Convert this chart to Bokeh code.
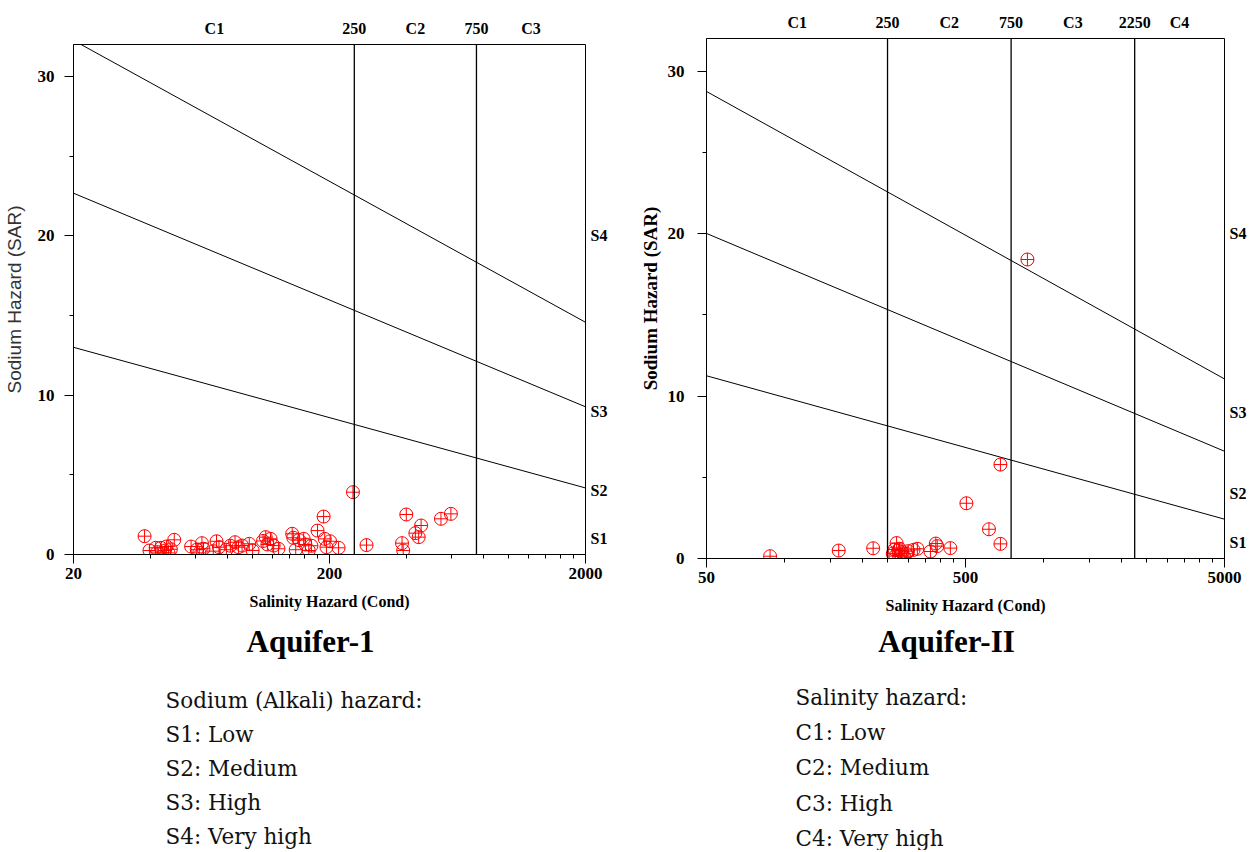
from bokeh.plotting import figure
from bokeh.models import FixedTicker, LinearAxis, LogAxis, NumeralTickFormatter, Range1d, Span
from bokeh.core.properties import value
from bokeh.layouts import row, column
from bokeh.embed import file_html
from bokeh.resources import INLINE

# ---------------- data ----------------
ec_aq1 = [37.9, 39.6, 41.9, 43.9, 45.5, 46.2, 48.0, 49.5, 42.5, 47.0,
          57.6, 60.6, 63.5, 64.4, 62.0, 70.3, 72.4, 74.0, 79.1, 85.5,
          88.2, 91.1, 97.2, 100.2, 82.0, 112.7, 114.4, 117.7, 121.0, 126.4,
          110.0, 143.0, 144.4, 147.6, 152.0, 158.5, 161.0, 166.0, 170.0, 179.6,
          189.7, 191.6, 194.6, 201.0, 217.0, 247.0, 279.0, 384.0, 388.0, 399.0,
          433.0, 446.0, 456.0, 545.0, 596.0]
sar_aq1 = [1.15, 0.25, 0.42, 0.42, 0.25, 0.50, 0.33, 0.92, 0.15, 0.10,
           0.50, 0.30, 0.71, 0.36, 0.10, 0.21, 0.83, 0.46, 0.30, 0.77,
           0.46, 0.56, 0.67, 0.25, 0.55, 1.09, 0.63, 0.98, 0.56, 0.36,
           0.85, 1.30, 1.05, 0.30, 0.90, 0.98, 0.63, 0.25, 0.55, 1.50,
           2.38, 0.98, 0.46, 0.83, 0.42, 3.91, 0.59, 0.71, 0.25, 2.51,
           1.34, 1.09, 1.82, 2.24, 2.55]

ec_aq2 = [88, 162, 220, 271, 262, 268, 275, 280, 285, 290, 295, 300, 278, 266,
          315, 326, 366, 384, 389, 437, 504, 616, 682, 682, 867]
sar_aq2 = [0.14, 0.49, 0.63, 0.95, 0.30, 0.15, 0.50, 0.20, 0.40, 0.10, 0.30, 0.45, 0.60, 0.55,
           0.53, 0.60, 0.43, 0.92, 0.76, 0.64, 3.40, 1.80, 0.90, 5.78, 18.4]

# Sodium-hazard boundary lines: SAR at EC = 20 and EC = 5000
boundary_ec = [20, 5000]
s2_boundary = [13.0, 2.42]
s3_boundary = [22.67, 6.6]
s4_boundary = [32.26, 11.05]

salinity_breaks_1 = [250, 750]
salinity_breaks_2 = [250, 750, 2250]
salinity_classes_1 = ["C1", "C2", "C3"]
salinity_classes_2 = ["C1", "C2", "C3", "C4"]
sodium_classes = ["S1", "S2", "S3", "S4"]
sodium_label_sar = [1, 4, 9, 20]
sar_ticks = [0, 10, 20, 30]
sar_minor = [5, 15, 25]
x_ticks_1 = [20, 200, 2000]
x_ticks_2 = [50, 500, 5000]

titles = ["Aquifer-1", "Aquifer-II"]
legend_1 = ["Sodium (Alkali) hazard:", "S1: Low", "S2: Medium", "S3: High", "S4: Very high"]
legend_2 = ["Salinity hazard:", "C1: Low", "C2: Medium", "C3: High", "C4: Very high"]

SERIF = "Liberation Serif"


def style_labels(ax, size="17px"):
    ax.major_label_text_font = SERIF
    ax.major_label_text_font_style = "bold"
    ax.major_label_text_font_size = size
    ax.major_label_text_color = "black"


def make_plot(ec, sar, x0, x1, x_ticks, minor_step, breaks, classes, fw, fh, bl, bt, br, bb,
              ytitle_font, ytitle_style, ytitle_color, ytitle_size, lab_std, ax_lab_std):
    p = figure(x_axis_type="log", x_range=Range1d(x0, x1), y_range=Range1d(0, 32),
               frame_width=fw, frame_height=fh, min_border_left=bl, min_border_top=bt,
               min_border_right=br, min_border_bottom=bb,
               output_backend="svg", toolbar_location=None)
    p.frame_align = False
    p.grid.visible = False
    p.outline_line_color = "black"
    p.outline_line_width = 1
    p.background_fill_color = "white"
    p.border_fill_color = "white"

    # x axis
    minors = [minor_step * k * 10 ** e for e in (1, 2) for k in range(2, 10)]
    p.xaxis.ticker = FixedTicker(ticks=x_ticks, minor_ticks=minors)
    p.xaxis.formatter = NumeralTickFormatter(format="0")
    p.xaxis.axis_label = "Salinity Hazard (Cond)"
    p.xaxis.axis_label_text_font = SERIF
    p.xaxis.axis_label_text_font_style = "bold"
    p.xaxis.axis_label_text_font_size = "16px"
    p.xaxis.axis_label_text_color = "black"
    p.xaxis.axis_label_standoff = 11
    p.xaxis.major_label_standoff = 4

    # y axis
    p.yaxis.ticker = FixedTicker(ticks=sar_ticks, minor_ticks=sar_minor)
    p.yaxis.axis_label = "Sodium Hazard (SAR)"
    p.yaxis.axis_label_text_font = ytitle_font
    p.yaxis.axis_label_text_font_style = ytitle_style
    p.yaxis.axis_label_text_color = ytitle_color
    p.yaxis.axis_label_text_font_size = ytitle_size
    p.yaxis.axis_label_standoff = ax_lab_std
    p.yaxis.major_label_standoff = lab_std

    for ax in (p.xaxis, p.yaxis):
        style_labels(ax)
        ax.axis_line_color = "black"
        ax.major_tick_line_color = "black"
        ax.minor_tick_line_color = "black"
        ax.major_tick_in = 0
        ax.major_tick_out = 9
        ax.minor_tick_in = 0
        ax.minor_tick_out = 4

    # S class labels on the right
    sax = LinearAxis(ticker=FixedTicker(ticks=sodium_label_sar),
                     major_label_overrides={float(v): s for v, s in zip(sodium_label_sar, sodium_classes)})
    sax.axis_line_color = None
    sax.major_tick_line_color = None
    sax.minor_tick_line_color = None
    sax.major_tick_out = 0
    sax.minor_tick_out = 0
    sax.major_label_standoff = 5
    style_labels(sax, "16px")
    p.add_layout(sax, "right")

    # salinity class labels and class limits on top
    edges = [x0] + breaks + [x1]
    centers = [round((edges[i] * edges[i + 1]) ** 0.5) for i in range(len(classes))]
    overrides = {float(b): str(b) for b in breaks}
    overrides.update({float(c): t for c, t in zip(centers, classes)})
    tax = LogAxis(ticker=FixedTicker(ticks=sorted(breaks + centers)),
                  major_label_overrides=overrides)
    tax.axis_line_color = None
    tax.major_tick_line_color = None
    tax.minor_tick_line_color = None
    tax.major_tick_out = 0
    tax.minor_tick_out = 0
    tax.major_label_standoff = 8
    style_labels(tax, "16px")
    p.add_layout(tax, "above")

    # boundary lines
    for b in (s2_boundary, s3_boundary, s4_boundary):
        p.line(boundary_ec, b, line_color="black", line_width=1)
    for b in breaks:
        p.add_layout(Span(location=b, dimension="height", line_color="black", line_width=1.3))

    # samples
    p.scatter(ec, sar, marker="circle_cross", size=13, fill_color=None,
              line_color="#ff0000", line_width=1)
    return p


p1 = make_plot(ec_aq1, sar_aq1, 20, 2000, x_ticks_1, 2, salinity_breaks_1, salinity_classes_1,
               512, 510, 73, 44, 51, 68, "Liberation Sans", "normal", "#333333", "19px", 10, 10)
p2 = make_plot(ec_aq2, sar_aq2, 50, 5000, x_ticks_2, 5, salinity_breaks_2, salinity_classes_2,
               518, 520, 70, 38, 24, 64, SERIF, "bold", "black", "19px", 13, 4)

# ---------------- captions and legends below the charts ----------------
TOP, BOTTOM, WIDTH = 622, 850, 1248
pt = figure(x_range=Range1d(0, WIDTH), y_range=Range1d(BOTTOM, TOP),
            frame_width=WIDTH, frame_height=BOTTOM - TOP,
            min_border=0, x_axis_location=None, y_axis_location=None,
            output_backend="svg", toolbar_location=None)
pt.frame_align = False
pt.grid.visible = False
pt.outline_line_color = None
pt.background_fill_color = "white"
pt.border_fill_color = "white"

pt.text(x=[310, 946], y=[641, 641], text=titles, text_font=value(SERIF),
        text_font_style="bold", text_font_size="31px", text_align="center",
        text_baseline="middle", text_color="black")
pt.text(x=[165] * len(legend_1), y=[700 + 34 * i for i in range(len(legend_1))], text=legend_1,
        text_font=value("DejaVu Serif"), text_font_size="21.5px", text_align="left",
        text_baseline="middle", text_color="#111111")
pt.text(x=[795] * len(legend_2), y=[697 + 35.2 * i for i in range(len(legend_2))], text=legend_2,
        text_font=value("DejaVu Serif"), text_font_size="21.5px", text_align="left",
        text_baseline="middle", text_color="#111111")

layout = column(row(p1, p2), pt)
open("out.html", "w").write(file_html(layout, INLINE))
